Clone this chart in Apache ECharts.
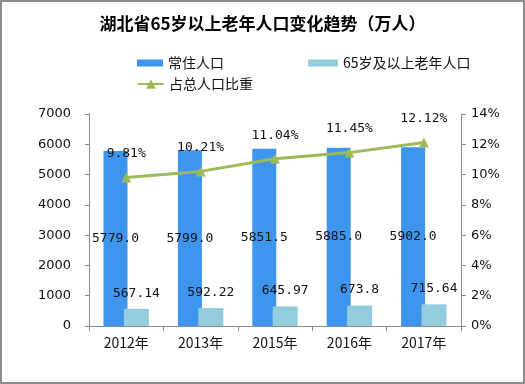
<!DOCTYPE html>
<html>
<head>
<meta charset="utf-8">
<script src="https://cdn.jsdelivr.net/npm/echarts@6/dist/echarts.min.js"></script>
<style>
html,body{margin:0;padding:0;background:#fff;}
#c{width:525px;height:384px;box-sizing:border-box;border:2px solid #8c8c8c;}
</style>
</head>
<body>
<div id="c"></div>
<script>
const categories = ['2012年','2013年','2015年','2016年','2017年'];
const residentPop = [5779.0, 5799.0, 5851.5, 5885.0, 5902.0];
const residentLabels = ['5779.0','5799.0','5851.5','5885.0','5902.0'];
const elderlyPop = [567.14, 592.22, 645.97, 673.8, 715.64];
const elderlyLabels = ['567.14','592.22','645.97','673.8','715.64'];
const sharePct = [9.81, 10.21, 11.04, 11.45, 12.12];
const shareLabels = ['9.81%','10.21%','11.04%','11.45%','12.12%'];

const chart = echarts.init(document.getElementById('c'));
const monoFont = '"DejaVu Sans Mono", monospace';
const axisFont = '"DejaVu Sans", sans-serif';
const cjk = '"Noto Sans CJK SC", sans-serif';

chart.setOption({
  backgroundColor: '#fff',
  animation: false,
  title: {
    text: '湖北省65岁以上老年人口变化趋势（万人）',
    left: 'center',
    top: 8,
    textStyle: {fontFamily: cjk, fontSize: 17, fontWeight: 'bold', color: '#000'}
  },
  legend: [
    {data: ['常住人口'], left: 130, top: 49, icon: 'rect', itemWidth: 26, itemHeight: 7, itemGap: 4,
     textStyle: {fontFamily: cjk, fontSize: 14, color: '#111'}},
    {data: ['65岁及以上老年人口'], left: 301, top: 49, icon: 'rect', itemWidth: 30, itemHeight: 7,
     textStyle: {fontFamily: cjk, fontSize: 14, color: '#111'}},
    {data: ['占总人口比重'], left: 130, top: 70, itemWidth: 26, itemHeight: 12,
     textStyle: {fontFamily: cjk, fontSize: 14, color: '#111'}}
  ],
  grid: {left: 87, right: 62, top: 112, bottom: 56},
  xAxis: {
    type: 'category',
    data: categories,
    axisLine: {lineStyle: {color: '#8c8c8c'}},
    axisTick: {show: true, length: 5, lineStyle: {color: '#8c8c8c'}},
    axisLabel: {fontFamily: cjk, fontSize: 14, color: '#111', margin: 10}
  },
  yAxis: [
    {
      type: 'value', min: 0, max: 7000, interval: 1000,
      axisLine: {show: true, lineStyle: {color: '#8c8c8c'}},
      axisTick: {show: true, length: 4, lineStyle: {color: '#8c8c8c'}},
      splitLine: {show: false},
      axisLabel: {fontFamily: axisFont, fontSize: 13, color: '#111', margin: 18, formatter: v => String(v)}
    },
    {
      type: 'value', min: 0, max: 14, interval: 2, position: 'right',
      axisLine: {show: true, lineStyle: {color: '#8c8c8c'}},
      axisTick: {show: true, length: 5, lineStyle: {color: '#8c8c8c'}},
      splitLine: {show: false},
      axisLabel: {fontFamily: axisFont, fontSize: 13, color: '#111', margin: 10, formatter: '{value}%'}
    }
  ],
  series: [
    {
      name: '常住人口', type: 'bar', data: residentPop, barWidth: 24, barGap: '-15%',
      itemStyle: {color: '#3D95EE'},
      label: {show: true, position: 'inside', color: '#111', fontFamily: monoFont, fontSize: 13,
        formatter: p => residentLabels[p.dataIndex]}
    },
    {
      name: '65岁及以上老年人口', type: 'bar', data: elderlyPop, barWidth: 25,
      itemStyle: {color: '#93CDDD'},
      label: {show: true, position: 'top', distance: 9, color: '#111', fontFamily: monoFont, fontSize: 13,
        formatter: p => elderlyLabels[p.dataIndex]}
    },
    {
      name: '占总人口比重', type: 'line', yAxisIndex: 1, data: sharePct,
      symbol: 'triangle', symbolSize: 10, showAllSymbol: true,
      lineStyle: {color: '#9BBB59', width: 3},
      itemStyle: {color: '#9BBB59'},
      label: {show: true, position: 'top', distance: 12, color: '#111', fontFamily: monoFont, fontSize: 13,
        formatter: p => shareLabels[p.dataIndex]}
    }
  ]
});
</script>
</body>
</html>
